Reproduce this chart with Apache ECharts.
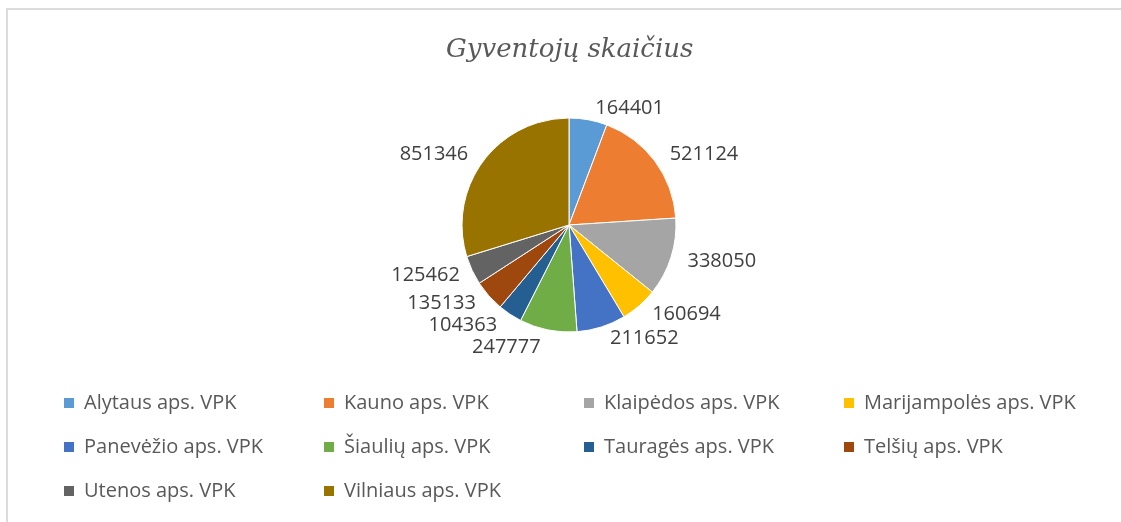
<!DOCTYPE html>
<html>
<head>
<meta charset="utf-8">
<script src="https://cdn.jsdelivr.net/npm/echarts@6/dist/echarts.min.js"></script>
<style>
  html, body { margin: 0; padding: 0; background: #fff; }
  #frame {
    position: absolute; left: 6px; top: 8px; right: 0; bottom: 0;
    border-top: 2px solid #dcdcdc; border-left: 2px solid #dcdcdc;
  }
  #pie-chart { position: absolute; left: 0; top: 0; width: 1121px; height: 522px; }
</style>
</head>
<body>
<div id="frame"></div>
<div id="pie-chart"></div>
<script>
const titleText = 'Gyventojų skaičius';
const regions = [
  'Alytaus aps. VPK', 'Kauno aps. VPK', 'Klaipėdos aps. VPK', 'Marijampolės aps. VPK',
  'Panevėžio aps. VPK', 'Šiaulių aps. VPK', 'Tauragės aps. VPK', 'Telšių aps. VPK',
  'Utenos aps. VPK', 'Vilniaus aps. VPK'
];
const population = [164401, 521124, 338050, 160694, 211652, 247777, 104363, 135133, 125462, 851346];
const colors = ['#5B9BD5', '#ED7D31', '#A5A5A5', '#FFC000', '#4472C4', '#70AD47', '#255E91', '#9E480E', '#636363', '#997300'];

const chart = echarts.init(document.getElementById('pie-chart'));
chart.setOption({
  animation: false,
  color: colors,
  title: {
    text: titleText,
    left: 446,
    top: 37,
    padding: 0,
    textStyle: {
      fontFamily: 'DejaVu Serif',
      fontStyle: 'italic',
      fontWeight: 'normal',
      fontSize: 26,
      color: '#595959'
    }
  },
  legend: {
    left: 62,
    top: 381,
    width: 1040,
    padding: 0,
    itemWidth: 12,
    itemHeight: 12,
    itemGap: 0,
    icon: 'rect',
    formatter: '{n|{name}}',
    textStyle: {
      lineHeight: 44,
      rich: {
        n: {
          width: 238,
          height: 44,
          lineHeight: 44,
          padding: [0, 0, 0, 4],
          fontFamily: 'Open Sans',
          fontSize: 20,
          color: '#595959'
        }
      }
    },
    data: regions
  },
  series: [{
    type: 'pie',
    center: [569, 225],
    radius: 107,
    startAngle: 90,
    clockwise: true,
    itemStyle: { borderColor: '#fff', borderWidth: 1 },
    label: {
      position: 'outside',
      formatter: '{c}',
      fontFamily: 'Open Sans',
      fontSize: 20,
      color: '#404040'
    },
    labelLine: { show: false, length: 12, length2: 0 },
    data: regions.map((name, i) => ({ name: name, value: population[i] }))
  }]
});
</script>
</body>
</html>
